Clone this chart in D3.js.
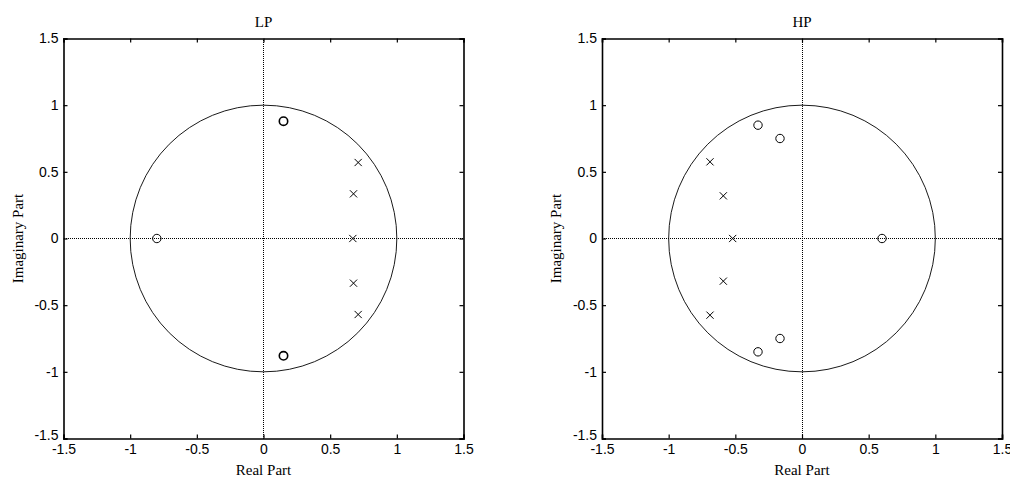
<!DOCTYPE html>
<html>
<head>
<meta charset="utf-8">
<script src="https://cdn.jsdelivr.net/npm/d3@7"></script>
<style>
  body { margin: 0; background: #fff; }
  svg { display: block; }
  .title { font-family: "Liberation Serif", "Times New Roman", serif; font-size: 15px; fill: #000; }
</style>
</head>
<body>
<div id="chart"></div>
<script>
// pole/zero data
var lpZerosRe = [0.15, 0.15, -0.80];
var lpZerosIm = [0.88, -0.88, 0];
var lpPolesRe = [0.71, 0.675, 0.67, 0.675, 0.71];
var lpPolesIm = [0.57, 0.335, 0, -0.335, -0.57];

var hpZerosRe = [-0.33, -0.165, -0.33, -0.165, 0.60];
var hpZerosIm = [0.85, 0.75, -0.85, -0.75, 0];
var hpPolesRe = [-0.69, -0.59, -0.52, -0.59, -0.69];
var hpPolesIm = [0.575, 0.32, 0, -0.32, -0.575];

var tickValues = [-1.5, -1, -0.5, 0, 0.5, 1, 1.5];
var tickLabels = ["-1.5", "-1", "-0.5", "0", "0.5", "1", "1.5"];

var panels = [
  { title: "LP", left: 63.5, zr: lpZerosRe, zi: lpZerosIm, pr: lpPolesRe, pi: lpPolesIm, boldZero: true },
  { title: "HP", left: 602, zr: hpZerosRe, zi: hpZerosIm, pr: hpPolesRe, pi: hpPolesIm, boldZero: false }
];

var width = 1010, height = 478;
var size = 400, plotTop = 38.5;

var svg = d3.select("#chart").append("svg")
  .attr("width", width)
  .attr("height", height)
  .style("background", "white");

panels.forEach(function(p) {
  var x = d3.scaleLinear().domain([-1.5, 1.5]).range([p.left, p.left + size]);
  var y = d3.scaleLinear().domain([-1.5, 1.5]).range([plotTop + size, plotTop]);
  var g = svg.append("g");

  // dotted zero lines
  g.append("line")
    .attr("x1", x(-1.5)).attr("x2", x(1.5))
    .attr("y1", y(0)).attr("y2", y(0))
    .attr("stroke", "#000").attr("stroke-width", 1)
    .attr("stroke-dasharray", "1,1")
    .attr("shape-rendering", "crispEdges");
  g.append("line")
    .attr("x1", x(0)).attr("x2", x(0))
    .attr("y1", y(-1.5)).attr("y2", y(1.5))
    .attr("stroke", "#000").attr("stroke-width", 1)
    .attr("stroke-dasharray", "1,1")
    .attr("shape-rendering", "crispEdges");

  // unit circle
  g.append("circle")
    .attr("cx", x(0)).attr("cy", y(0))
    .attr("r", x(1) - x(0))
    .attr("fill", "none").attr("stroke", "#000").attr("stroke-width", 0.9);

  // axes
  var axB = d3.axisBottom(x).tickValues(tickValues).tickSize(-4).tickPadding(6)
    .tickFormat(function(d, i) { return tickLabels[i]; });
  var axT = d3.axisTop(x).tickValues(tickValues).tickSize(-4).tickFormat("");
  var axL = d3.axisLeft(y).tickValues(tickValues).tickSize(-4).tickPadding(5)
    .tickFormat(function(d, i) { return tickLabels[i]; });
  var axR = d3.axisRight(y).tickValues(tickValues).tickSize(-4).tickFormat("");

  [[axB, "translate(0," + (plotTop + size) + ")"], [axT, "translate(0," + plotTop + ")"],
   [axL, "translate(" + p.left + ",0)"], [axR, "translate(" + (p.left + size) + ",0)"]]
    .forEach(function(a, k) {
      var ag = g.append("g").attr("transform", a[1]).call(a[0]);
      ag.attr("font-family", "'Liberation Sans', Arial, sans-serif").attr("font-size", 14);
      ag.select(".domain").attr("stroke", "#000").attr("stroke-width", 1.6);
      ag.selectAll(".tick line").attr("stroke", "#000").attr("stroke-width", 1.2);
      ag.selectAll(".tick text").attr("fill", "#000");
      if (k === 2) {
        // lift the bottom y label a bit so it clears the x label
        ag.selectAll(".tick text").filter(function(d) { return d === -1.5; }).attr("dy", "0.1em");
      }
    });

  // zeros
  g.selectAll(".zero")
    .data(p.zr.map(function(d, i) { return [d, p.zi[i]]; }))
    .enter().append("circle")
    .attr("cx", function(d) { return x(d[0]); })
    .attr("cy", function(d) { return y(d[1]); })
    .attr("r", 4.2)
    .attr("fill", "none").attr("stroke", "#000")
    .attr("stroke-width", function(d, i) { return p.boldZero && i < 2 ? 1.6 : 1; });

  // poles
  var s = 3.6;
  g.selectAll(".pole")
    .data(p.pr.map(function(d, i) { return [d, p.pi[i]]; }))
    .enter().append("path")
    .attr("d", function(d) {
      var cx = x(d[0]), cy = y(d[1]);
      return "M" + (cx - s) + "," + (cy - s) + "L" + (cx + s) + "," + (cy + s) +
             "M" + (cx - s) + "," + (cy + s) + "L" + (cx + s) + "," + (cy - s);
    })
    .attr("stroke", "#000").attr("stroke-width", 1).attr("fill", "none");

  // labels
  g.append("text").attr("class", "title")
    .attr("x", x(0)).attr("y", 27)
    .attr("text-anchor", "middle").text(p.title);
  g.append("text").attr("class", "title")
    .attr("x", x(0)).attr("y", 475)
    .attr("text-anchor", "middle").text("Real Part");
  g.append("text").attr("class", "title")
    .attr("transform", "translate(" + (p.left - 41) + "," + y(0) + ") rotate(-90)")
    .attr("text-anchor", "middle").text("Imaginary Part");
});
</script>
</body>
</html>
